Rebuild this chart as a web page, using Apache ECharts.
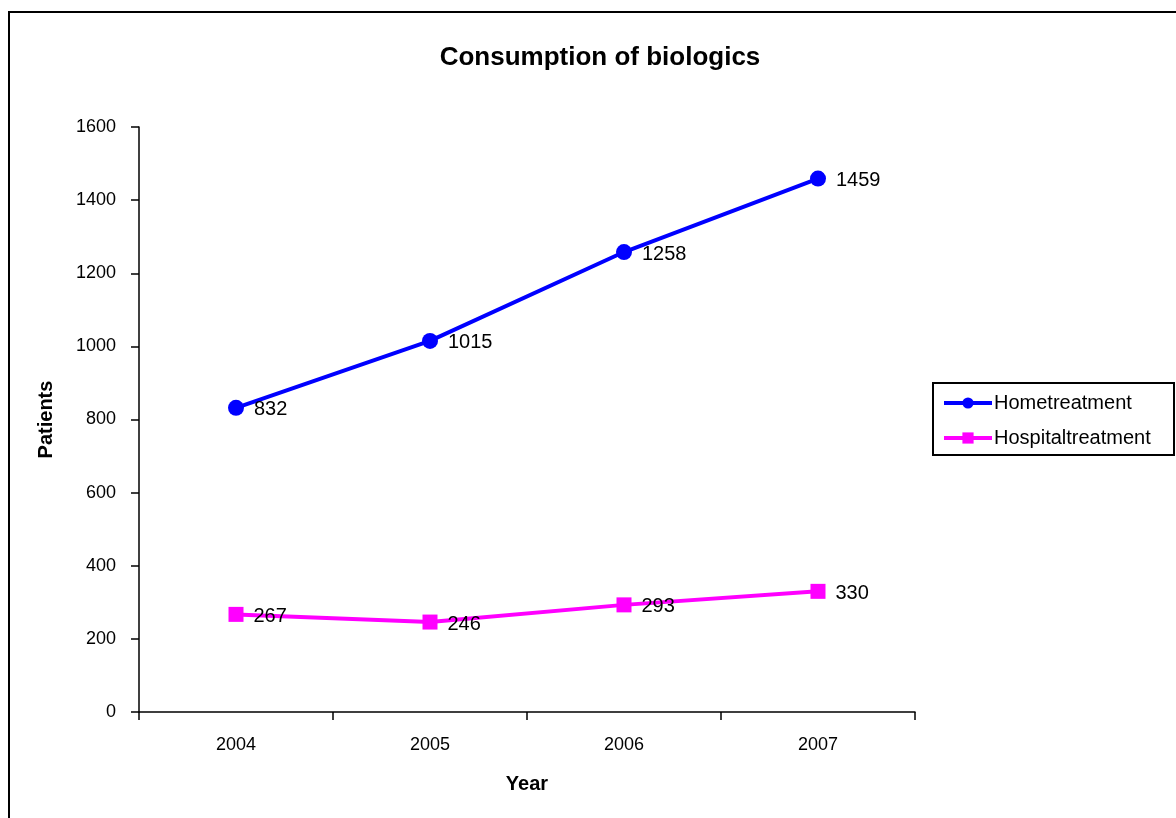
<!DOCTYPE html>
<html>
<head>
<meta charset="utf-8">
<script src="https://cdn.jsdelivr.net/npm/echarts@6/dist/echarts.min.js"></script>
<style>
  html, body { margin: 0; padding: 0; background: #fff; }
  #chart { width: 1176px; height: 818px; }
</style>
</head>
<body>
<div id="chart"></div>
<script>
const years = ['2004', '2005', '2006', '2007'];
const homeTreatment = [832, 1015, 1258, 1459];
const hospitalTreatment = [267, 246, 293, 330];
const yTicks = { min: 0, max: 1600, interval: 200 };

const font = '"Liberation Sans", Arial, sans-serif';
const chart = echarts.init(document.getElementById('chart'));

const valueLabel = {
  show: true,
  position: 'right',
  distance: 10,
  offset: [0, 2],
  fontFamily: font,
  fontSize: 20,
  color: '#000'
};

chart.setOption({
  animation: false,
  backgroundColor: '#fff',
  graphic: [
    {
      // outer chart-area frame
      type: 'rect',
      shape: { x: 9, y: 12, width: 1300, height: 1000 },
      style: { fill: 'none', stroke: '#000', lineWidth: 2 },
      z: -1
    },
    {
      // legend frame
      type: 'rect',
      shape: { x: 933, y: 383, width: 241, height: 72 },
      style: { fill: '#fff', stroke: '#000', lineWidth: 2 },
      z: -1
    }
  ],
  title: {
    text: 'Consumption of biologics',
    left: 595,
    top: 40,
    textAlign: 'center',
    textStyle: { fontFamily: font, fontSize: 26, fontWeight: 'bold', color: '#000' }
  },
  grid: { left: 139, top: 127, right: 261, bottom: 106 },
  legend: {
    orient: 'vertical',
    left: 942,
    top: 392,
    padding: 0,
    itemGap: 13,
    itemWidth: 48,
    itemHeight: 14,
    lineStyle: { width: 4 },
    textStyle: { fontFamily: font, fontSize: 20, lineHeight: 22, color: '#000', padding: [0, 0, 0, -3] },
    data: ['Hometreatment', 'Hospitaltreatment']
  },
  xAxis: {
    type: 'category',
    data: years,
    boundaryGap: true,
    name: 'Year',
    nameLocation: 'middle',
    nameGap: 62,
    nameTextStyle: { fontFamily: font, fontSize: 20, fontWeight: 'bold', color: '#000' },
    axisLine: { lineStyle: { color: '#000', width: 1.5 } },
    axisTick: { show: true, length: 8, inside: false, lineStyle: { color: '#000', width: 1.5 } },
    axisLabel: { fontFamily: font, fontSize: 18, color: '#000', margin: 24 }
  },
  yAxis: {
    type: 'value',
    min: yTicks.min,
    max: yTicks.max,
    interval: yTicks.interval,
    name: 'Patients',
    nameLocation: 'middle',
    nameGap: 83,
    nameRotate: 90,
    nameTextStyle: { fontFamily: font, fontSize: 20, fontWeight: 'bold', color: '#000' },
    axisLine: { show: true, lineStyle: { color: '#000', width: 1.5 } },
    axisTick: { show: true, length: 8, lineStyle: { color: '#000', width: 1.5 } },
    splitLine: { show: false },
    axisLabel: { fontFamily: font, fontSize: 18, color: '#000', margin: 23, formatter: v => String(v) }
  },
  series: [
    {
      name: 'Hometreatment',
      type: 'line',
      data: homeTreatment,
      color: '#0000ff',
      symbol: 'circle',
      symbolSize: 16,
      lineStyle: { width: 4, color: '#0000ff' },
      itemStyle: { color: '#0000ff' },
      label: valueLabel
    },
    {
      name: 'Hospitaltreatment',
      type: 'line',
      data: hospitalTreatment,
      color: '#ff00ff',
      symbol: 'rect',
      symbolSize: 15,
      lineStyle: { width: 4, color: '#ff00ff' },
      itemStyle: { color: '#ff00ff' },
      label: valueLabel
    }
  ]
});
</script>
</body>
</html>
